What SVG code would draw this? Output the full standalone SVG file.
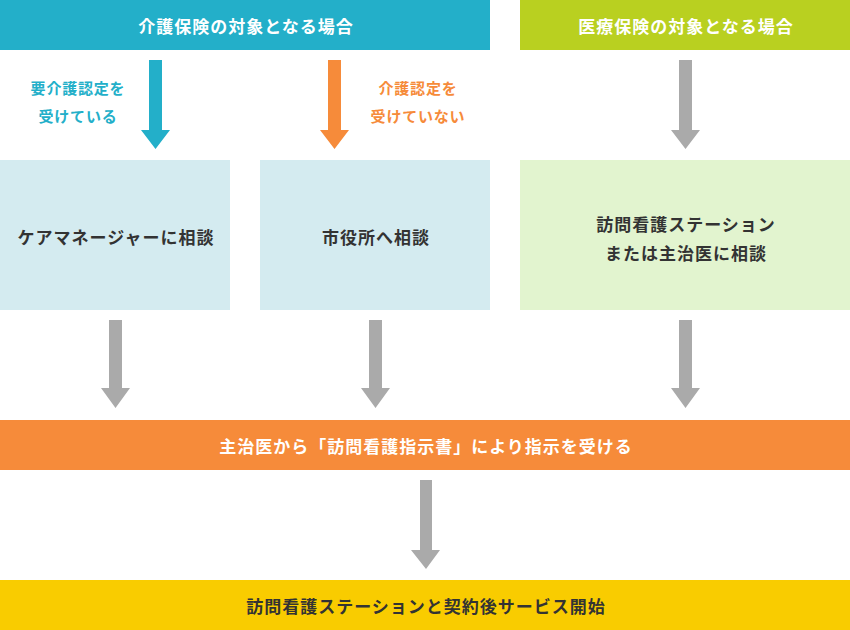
<svg xmlns="http://www.w3.org/2000/svg" width="850" height="630" viewBox="0 0 850 630">
<style>
text{font-family:"Noto Sans CJK JP","Noto Sans",sans-serif;font-weight:bold;text-anchor:middle;dominant-baseline:central}
.t{font-size:17px;letter-spacing:1px}
.w{fill:#ffffff}
.d{fill:#333333}
.s{font-size:15px;letter-spacing:0.8px}
.gray{fill:#aaaaaa}
</style>
<rect width="850" height="630" fill="#ffffff"/>
<g id="kaigo-header">
<rect x="0" y="0" width="490" height="50" fill="#23afc9"/>
<text class="t w" x="246" y="25">介護保険の対象となる場合</text>
</g>
<g id="iryo-header">
<rect x="520" y="0" width="330" height="50" fill="#b9d020"/>
<text class="t w" x="686" y="25">医療保険の対象となる場合</text>
</g>
<g id="caremanager">
<rect x="0" y="160" width="230" height="150" fill="#d4ebf0"/>
<text class="t d" x="116" y="236">ケアマネージャーに相談</text>
</g>
<g id="shiyakusho">
<rect x="260" y="160" width="230" height="150" fill="#d4ebf0"/>
<text class="t d" x="376" y="236">市役所へ相談</text>
</g>
<g id="station">
<rect x="520" y="160" width="330" height="150" fill="#e2f4cf"/>
<text class="t d" x="686" y="223">訪問看護ステーション</text>
<text class="t d" x="686" y="252">または主治医に相談</text>
</g>
<g id="shijisho">
<rect x="0" y="420" width="850" height="50" fill="#f68b3a"/>
<text class="t w" x="426" y="445">主治医から「訪問看護指示書」により指示を受ける</text>
</g>
<g id="keiyaku">
<rect x="0" y="580" width="850" height="50" fill="#f9cc00"/>
<text class="t d" x="426" y="605">訪問看護ステーションと契約後サービス開始</text>
</g>
<g id="connectors">
<polygon fill="#23afc9" points="149,60 162,60 162,130 170,130 155.5,149 141,130 149,130"/>
<polygon fill="#f68b3a" points="328,60 341,60 341,130 349,130 334.5,149 320,130 328,130"/>
<polygon class="gray" points="679,60 692,60 692,130 700,130 685.5,149 671,130 679,130"/>
<polygon class="gray" points="109,320 122,320 122,388 130,388 115.5,408 101,388 109,388"/>
<polygon class="gray" points="369,320 382,320 382,388 390,388 375.5,408 361,388 369,388"/>
<polygon class="gray" points="679,320 692,320 692,388 700,388 685.5,408 671,388 679,388"/>
<polygon class="gray" points="420,480 432,480 432,550 440,550 426,569 411,550 420,550"/>
<text class="s" x="78" y="87" fill="#23afc9">要介護認定を</text>
<text class="s" x="78" y="115" fill="#23afc9">受けている</text>
<text class="s" x="418" y="87" fill="#f68b3a">介護認定を</text>
<text class="s" x="418" y="115" fill="#f68b3a">受けていない</text>
</g>
</svg>
